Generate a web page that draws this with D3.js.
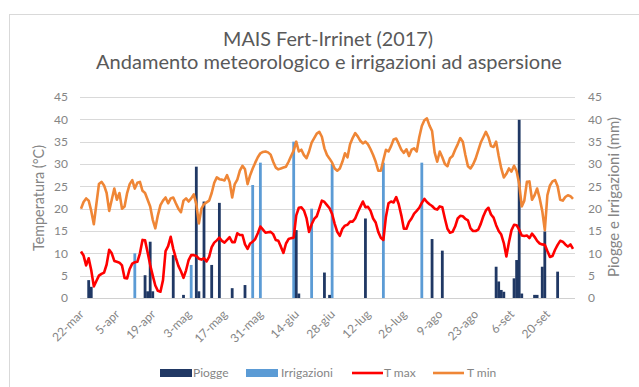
<!DOCTYPE html>
<html>
<head>
<meta charset="utf-8">
<script src="https://cdn.jsdelivr.net/npm/d3@7"></script>
<style>
  html, body { margin: 0; padding: 0; background: #fff; }
  svg { display: block; font-family: Lato, "Open Sans", sans-serif; }
</style>
</head>
<body>
<svg id="chart" width="639" height="387"></svg>
<script>
// Daily series from 22 March to 30 September 2017
const primoGiorno = "2017-03-22";
const ultimoGiorno = "2017-09-30";

// T max (°C), one value per day
const tMax = [
  10.4, 9.5, 7.3, 8.9, 6.2, 2.6, 3.8, 5, 5.4, 5.7,
  7.5, 10.8, 10, 8.3, 8.1, 7.9, 7.3, 4.5, 4.4, 6.5,
  7.7, 8, 8.1, 10, 13, 12.9, 10.2, 7.4, 5, 2.8,
  1.6, 1.4, 4, 10.5, 11.6, 13.7, 11, 9, 7.2, 6,
  4.5, 6.2, 8.5, 9.6, 9.6, 9.4, 8.8, 8.6, 8.9, 8.2,
  9.2, 11.4, 12.4, 12.9, 13.5, 12.8, 12.4, 13, 13.6, 12.5,
  12.5, 14.5, 14.1, 14.1, 12, 11, 12.2, 12.6, 13.2, 14.5,
  16, 15.3, 14.6, 14.7, 14.8, 14.3, 13, 12.8, 11.5, 10.1,
  12.2, 13.2, 13.4, 13.5, 18.5, 20.2, 20.3, 19.6, 17.9, 14.8,
  16.5, 17.7, 18.3, 20, 21.8, 21.5, 20.8, 20.1, 18.8, 16.6,
  14.8, 13.9, 15.5, 16.2, 16.4, 17.1, 17.1, 17.8, 19.2, 20.4,
  21.6, 20.3, 20.4, 19.5, 17.8, 16.9, 14.8, 13.5, 13, 18.2,
  21.2, 21.6, 21.4, 22.6, 21, 18.5, 15.5, 15.5, 17, 17.8,
  18.9, 19.5, 20.2, 21.3, 22.2, 21.5, 21, 20.6, 20, 19.8,
  20.5, 20.3, 17.8, 15.5, 14.6, 14.8, 16, 17.8, 18.4, 18.3,
  17.7, 17.4, 15.6, 15, 15, 15.3, 16.6, 18.3, 19.6, 20.2,
  18.7, 18, 16.3, 15, 14.2, 12.3, 9.3, 12.5, 15.2, 16.4,
  16.3, 15.3, 14, 13.9, 14, 13.4, 14.4, 13.7, 12.8, 12.2,
  12, 11.9, 10.5, 9.2, 9.4, 10.8, 11.9, 12.8, 12.6, 12,
  11.5, 12, 11
];

// T min (°C), one value per day
const tMin = [
  20, 21.5, 22.3, 21.8, 19.5, 16.5, 21, 25.5, 26, 25.2,
  23.5, 19.5, 22, 24.5, 22, 23.5, 20, 20.5, 23.5, 25.5,
  26.4, 24.5, 25.8, 26, 24, 23.5, 22, 20.5, 17.5, 15.6,
  18.5, 20.8, 21.8, 22.5, 21.2, 22.3, 22.5, 21.2, 20, 19.2,
  21.8, 22.3, 21.6, 22.3, 23.2, 21, 16.7, 20, 21, 21.4,
  21.8, 23.5, 25.8, 27, 26.6, 26.5, 26.3, 27.5, 26, 22.5,
  25.5, 26.5, 28.5, 29.6, 28.8, 25.5, 27.5, 29, 30.3, 31.5,
  32.4, 32.7, 32.8, 32.6, 32.1, 30.5, 29.2, 28.8, 29, 29.2,
  29.4, 30.5, 31.8, 33, 35, 32.8, 33.2, 32, 31.3, 32.8,
  34.8, 35.8, 36.8, 37.2, 36.1, 33.5, 32, 31.2, 30.3, 29,
  28.5, 29, 30.5, 32.4, 31.5, 34.4, 35.8, 36.9, 36.2, 35.2,
  34.6, 35, 34.4, 33.3, 32, 30.5, 28.5, 28.5, 30.9, 33.2,
  32.8, 34, 35.5, 35.7, 34.5, 33.2, 32.5, 33.3, 31.8, 33.2,
  33.5, 32.8, 36, 38.5, 39.8, 40.2, 38.6, 37.4, 32.6, 30.5,
  32.8, 31.5, 30, 29.5, 31.3, 31.8, 33.2, 34.4, 35.8, 35,
  32, 29.5, 29, 29.9, 31.2, 33, 34.8, 36, 37.2, 36,
  34, 33.8, 35, 31.8, 29, 27, 27.8, 29, 28.3, 29.6,
  28.4, 25.5, 20.5, 21.8, 26, 26.1, 22, 23, 24.5, 22.3,
  19.5, 15.2, 23, 25.2, 26.1, 26.4, 25, 22, 21.8, 22.6,
  23, 22.8, 22.2
];

// Piogge (mm): rainy days and amounts
const pioggeGiorni = [
  "2017-03-25", "2017-03-26", "2017-04-16", "2017-04-17", "2017-04-18", "2017-04-19",
  "2017-04-27", "2017-05-01", "2017-05-06", "2017-05-07", "2017-05-09", "2017-05-12",
  "2017-05-15", "2017-05-20", "2017-05-25", "2017-06-14", "2017-06-15", "2017-06-25",
  "2017-06-27", "2017-07-11", "2017-08-06", "2017-08-10", "2017-08-31", "2017-09-01",
  "2017-09-02", "2017-09-03", "2017-09-07", "2017-09-08", "2017-09-09", "2017-09-10",
  "2017-09-15", "2017-09-16", "2017-09-18", "2017-09-19", "2017-09-24"
];
const pioggeMm = [
  4, 2.5, 5.1, 1.5, 12.6, 1.5,
  9.6, 0.7, 29.4, 1.5, 21.6, 7.4,
  21.3, 2.2, 2.9, 15.2, 1, 5.7,
  0.7, 17.8, 13.2, 10.6, 7, 3.7,
  1.8, 1.4, 4.4, 8.5, 39.9, 1,
  0.7, 0.7, 7, 14.9, 5.9
];

// Irrigazioni ad aspersione (mm)
const irrigazioniGiorni = [
  "2017-04-12", "2017-05-04", "2017-05-28", "2017-05-31", "2017-06-13",
  "2017-06-20", "2017-06-28", "2017-07-18", "2017-08-02"
];
const irrigazioniMm = [10, 7.4, 25.3, 30.3, 35, 20, 30, 30.3, 30.3];

// Axis ticks
const tickValoriY = [0, 5, 10, 15, 20, 25, 30, 35, 40, 45];
const passoEtichetteGiorni = 14;
const mesi = ["gen", "feb", "mar", "apr", "mag", "giu", "lug", "ago", "set", "ott", "nov", "dic"];

const titolo1 = "MAIS Fert-Irrinet (2017)";
const titolo2 = "Andamento meteorologico e irrigazioni ad aspersione";

const colori = {
  piogge: "#203864",
  irrigazioni: "#5b9bd5",
  tmax: "#ff0000",
  tmin: "#ef8636",
  griglia: "#d9d9d9",
  testo: "#595959",
  assi: "#858585"
};

const parse = d3.timeParse("%Y-%m-%d");
const inizio = parse(primoGiorno);
const fine = parse(ultimoGiorno);
const giorni = d3.timeDay.range(inizio, d3.timeDay.offset(fine, 1));

const svg = d3.select("#chart");
const plot = { left: 80, right: 575, top: 97, bottom: 298 };

// Chart area border
svg.append("rect")
  .attr("x", 9.5).attr("y", 14.5)
  .attr("width", 660).attr("height", 400)
  .attr("fill", "#fff")
  .attr("stroke", "#d9d9d9");

const x = d3.scaleTime().domain([inizio, fine]).range([81, 573]);
const yT = d3.scaleLinear().domain([0, 45]).range([plot.bottom, plot.top]);
const yP = d3.scaleLinear().domain([0, 45]).range([plot.bottom, plot.top]);

// Horizontal gridlines
svg.append("g")
  .selectAll("line")
  .data(tickValoriY)
  .join("line")
  .attr("x1", plot.left).attr("x2", plot.right)
  .attr("y1", d => Math.round(yT(d)) + 0.5)
  .attr("y2", d => Math.round(yT(d)) + 0.5)
  .attr("stroke", colori.griglia)
  .attr("stroke-width", 1);

// Left axis: temperature
const assePrimario = svg.append("g")
  .attr("transform", `translate(${plot.left},0)`)
  .call(d3.axisLeft(yT).tickValues(tickValoriY).tickSize(0).tickPadding(12));
assePrimario.select(".domain").remove();
assePrimario.selectAll("text")
  .attr("font-size", 12).attr("fill", colori.assi)
  .style("font-family", "Lato, sans-serif");

// Right axis: rain and irrigation
const asseSecondario = svg.append("g")
  .attr("transform", `translate(${plot.right},0)`)
  .call(d3.axisRight(yP).tickValues(tickValoriY).tickSize(0).tickPadding(13));
asseSecondario.select(".domain").remove();
asseSecondario.selectAll("text")
  .attr("font-size", 12).attr("fill", colori.assi)
  .style("font-family", "Lato, sans-serif");

// Bars
const larghezzaBarra = 2.8;
const piogge = pioggeGiorni.map((g, i) => ({ data: parse(g), mm: pioggeMm[i] }));
const irrigazioni = irrigazioniGiorni.map((g, i) => ({ data: parse(g), mm: irrigazioniMm[i] }));

svg.append("g")
  .selectAll("rect")
  .data(irrigazioni)
  .join("rect")
  .attr("x", d => x(d.data) - larghezzaBarra / 2)
  .attr("y", d => yP(d.mm))
  .attr("width", larghezzaBarra)
  .attr("height", d => yP(0) - yP(d.mm))
  .attr("fill", colori.irrigazioni);

svg.append("g")
  .selectAll("rect")
  .data(piogge)
  .join("rect")
  .attr("x", d => x(d.data) - larghezzaBarra / 2)
  .attr("y", d => yP(d.mm))
  .attr("width", larghezzaBarra)
  .attr("height", d => yP(0) - yP(d.mm))
  .attr("fill", colori.piogge);

// X axis baseline
svg.append("line")
  .attr("x1", plot.left).attr("x2", plot.right)
  .attr("y1", plot.bottom + 0.5).attr("y2", plot.bottom + 0.5)
  .attr("stroke", "#d0d0d0");

// Temperature lines
const linea = serie => d3.line()
  .x((d, i) => x(giorni[i]))
  .y(d => yT(d))
  .curve(d3.curveLinear)(serie);

svg.append("path")
  .attr("d", linea(tMin))
  .attr("fill", "none")
  .attr("stroke", colori.tmin)
  .attr("stroke-width", 2.6)
  .attr("stroke-linejoin", "round");

svg.append("path")
  .attr("d", linea(tMax))
  .attr("fill", "none")
  .attr("stroke", colori.tmax)
  .attr("stroke-width", 2.6)
  .attr("stroke-linejoin", "round");

// Date labels every two weeks
const tickDate = d3.range(0, giorni.length, passoEtichetteGiorni).map(i => giorni[i]);
const formatoData = d => d.getDate() + "-" + mesi[d.getMonth()];
const asseX = svg.append("g")
  .attr("transform", `translate(0,${plot.bottom})`)
  .call(d3.axisBottom(x).tickValues(tickDate).tickFormat(formatoData).tickSize(0));
asseX.select(".domain").remove();
asseX.selectAll(".tick text")
  .attr("font-size", 12)
  .attr("fill", colori.assi)
  .style("font-family", "Lato, sans-serif")
  .attr("text-anchor", "end")
  .attr("dy", 0)
  .attr("y", 0)
  .attr("transform", "translate(3,17) rotate(-45)");

// Fits a text element to a target width by adjusting its font size
function adatta(sel, larghezza) {
  const w = sel.node().getComputedTextLength();
  const fs = parseFloat(sel.attr("font-size"));
  sel.attr("font-size", (fs * larghezza / w).toFixed(2));
  return sel;
}

// Titles
adatta(svg.append("text")
  .attr("x", 328).attr("y", 45.5)
  .attr("text-anchor", "middle")
  .attr("font-size", 16)
  .attr("fill", colori.testo)
  .text(titolo1), 210);

adatta(svg.append("text")
  .attr("x", 329).attr("y", 68.5)
  .attr("text-anchor", "middle")
  .attr("font-size", 17)
  .attr("fill", colori.testo)
  .text(titolo2), 466);

// Axis titles
adatta(svg.append("text")
  .attr("transform", "translate(44,198) rotate(-90)")
  .attr("text-anchor", "middle")
  .attr("font-size", 13)
  .attr("fill", colori.assi)
  .text("Temperatura (°C)"), 106);

adatta(svg.append("text")
  .attr("transform", "translate(619,197) rotate(-90)")
  .attr("text-anchor", "middle")
  .attr("font-size", 13)
  .attr("fill", colori.assi)
  .text("Piogge e Irrigazioni (mm)"), 160);

// Legend
const legenda = [
  { nome: "Piogge", tipo: "barra", colore: colori.piogge, x: 160, tx: 193 },
  { nome: "Irrigazioni", tipo: "barra", colore: colori.irrigazioni, x: 246, tx: 281 },
  { nome: "T max", tipo: "linea", colore: colori.tmax, x: 352, tx: 384 },
  { nome: "T min", tipo: "linea", colore: colori.tmin, x: 433, tx: 467 }
];
const gLeg = svg.append("g");
legenda.forEach(v => {
  if (v.tipo === "barra") {
    gLeg.append("rect")
      .attr("x", v.x).attr("y", 369)
      .attr("width", 32).attr("height", 8)
      .attr("fill", v.colore);
  } else {
    gLeg.append("line")
      .attr("x1", v.x).attr("x2", v.x + 31)
      .attr("y1", 373).attr("y2", 373)
      .attr("stroke", v.colore)
      .attr("stroke-width", 2.6);
  }
  gLeg.append("text")
    .attr("x", v.tx).attr("y", 377)
    .attr("font-size", 12)
    .attr("fill", colori.assi)
    .text(v.nome);
});
</script>
</body>
</html>
